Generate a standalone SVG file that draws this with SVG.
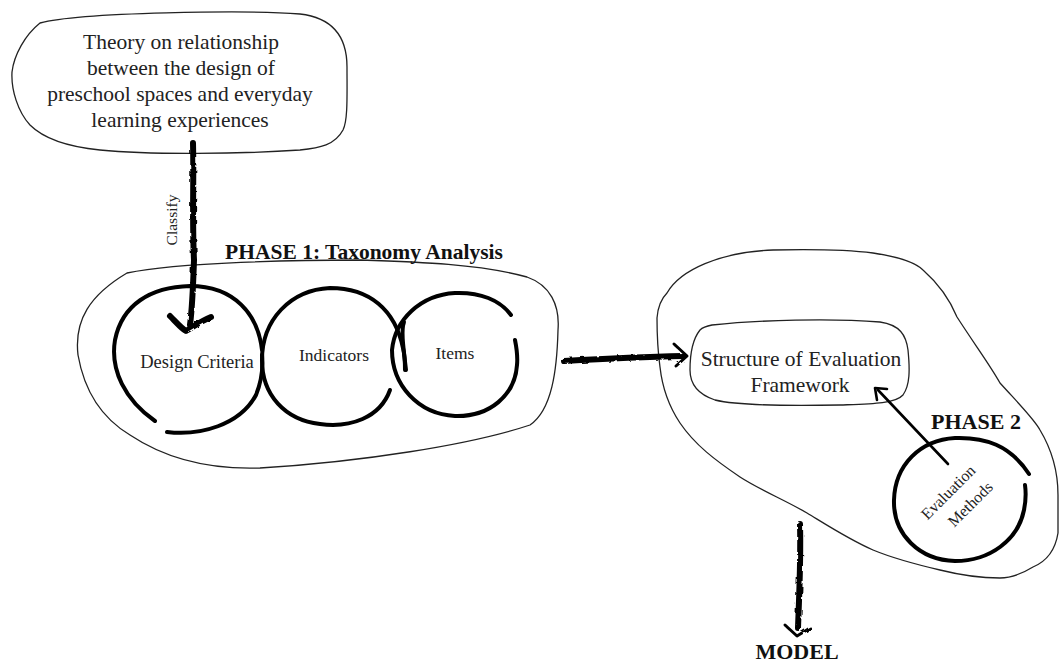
<svg xmlns="http://www.w3.org/2000/svg" width="1060" height="662" viewBox="0 0 1060 662">
<style>
.blob{fill:none;stroke:#222;stroke-width:1.3}
.ring{fill:none;stroke:#000;stroke-width:4;stroke-linecap:round}
.thick{fill:none;stroke:#000;stroke-width:6;stroke-linecap:round;stroke-linejoin:round}
.thin{fill:none;stroke:#000;stroke-width:3;stroke-linecap:round;stroke-linejoin:round}
.t{font-family:"Liberation Serif",serif;fill:#222;text-anchor:middle}
.b{font-family:"Liberation Serif",serif;font-weight:bold;fill:#111;text-anchor:middle}
</style>
<defs>
<filter id="rough" x="-10%" y="-10%" width="120%" height="120%">
<feTurbulence type="fractalNoise" baseFrequency="0.15" numOctaves="2" seed="3" result="n"/>
<feDisplacementMap in="SourceGraphic" in2="n" scale="3"/>
</filter>
</defs>
<rect width="1060" height="662" fill="#fff"/>

<g id="theory">
<path class="blob" d="M40,23 C80,12 250,10 300,14 C335,18 347,40 347,67 C347,95 348,120 343,130 C335,145 320,148 300,150 C240,154 150,155 100,150 C70,147 45,140 30,125 C18,112 11,90 12,72 C14,55 25,35 40,23 Z"/>
<text class="t" font-size="21.5" x="181" y="49">Theory on relationship</text>
<text class="t" font-size="21.5" x="181" y="75">between the design of</text>
<text class="t" font-size="21.5" x="180" y="101">preschool spaces and everyday</text>
<text class="t" font-size="21.5" x="180" y="127">learning  experiences</text>
</g>

<g id="phase1">
<path class="blob" d="M127,273 C180,262 300,260 360,260 C420,262 480,264 527,277 C550,285 560,305 558,330 C557,370 552,410 530,425 C470,445 360,462 260,468 C200,470 160,455 130,435 C105,420 85,395 78,355 C74,320 90,295 127,273 Z"/>
<text class="b" font-size="21.5" x="364" y="259">PHASE 1: Taxonomy Analysis</text>
</g>

<g id="design-criteria">
<path class="ring" d="M155,421 C125,400 110,370 115,340 C122,305 150,287 190,286 C235,286 258,315 262,350"/>
<path class="ring" d="M167,432 C200,436 240,425 256,395 C262,380 263,365 262,355"/>
<text class="t" font-size="18.5" x="197" y="368">Design  Criteria</text>
</g>

<g id="indicators">
<path class="ring" d="M390,390 C380,418 350,428 320,424 C285,420 262,395 262,360 C262,320 290,290 330,288 C370,288 395,310 403,348 C404,352 405,360 405,370"/>
<text class="t" font-size="17.5" x="334" y="361">Indicators</text>
</g>

<g id="items">
<path class="ring" d="M511,315 C500,300 480,292 455,293 C420,295 395,320 392,350 C392,385 418,414 455,416 C490,417 515,395 517,365 C518,355 516,345 515,340"/>
<path class="ring" d="M406,370 C403,345 401,330 404,322"/>
<text class="t" font-size="17.5" x="455" y="359">Items</text>
</g>

<g id="phase2">
<path class="blob" d="M667,293 C680,270 720,252 773,250 C820,249 850,250 873,253 C900,257 915,262 923,270 C940,285 950,300 957,317 C975,345 990,365 1000,383 C1020,405 1035,420 1040,430 C1052,450 1058,470 1058,495 C1058,515 1058,525 1058,533 C1055,552 1045,562 1033,567 C1020,575 1010,578 1000,578 C980,578 960,575 940,570 C910,563 890,557 873,550 C850,540 830,527 807,513 C785,500 760,490 740,477 C715,460 695,445 680,423 C668,405 662,385 660,367 C657,345 657,330 657,318 C658,305 662,298 667,293 Z"/>
<text class="b" font-size="22" x="976" y="429">PHASE 2</text>
</g>

<g id="structure">
<path class="blob" d="M712,325 C760,320 830,318 880,322 C900,325 906,335 908,350 C910,370 910,385 903,395 C895,404 870,404 840,405 C790,406 740,406 715,400 C700,395 690,385 690,370 C690,355 692,340 700,330 C703,327 707,326 712,325 Z"/>
<text class="t" font-size="21.5" x="801" y="366">Structure of Evaluation</text>
<text class="t" font-size="21.5" x="800" y="392">Framework</text>
</g>

<g id="evaluation-methods">
<path class="ring" d="M1029,474 C1010,445 985,437 955,438 C920,440 895,465 894,500 C893,535 920,560 955,561 C990,561 1018,540 1024,510 C1026,500 1026,492 1025,485"/>
<text class="t" font-size="16" transform="translate(952,496) rotate(-45)" x="0" y="0">Evaluation</text>
<text class="t" font-size="16" transform="translate(974,508) rotate(-45)" x="0" y="0">Methods</text>
</g>

<g id="connectors">
<g filter="url(#rough)">
<path class="thick" d="M193,143 C194,180 192,220 194,260 C193,290 192,310 190,325"/>
<path class="thick" d="M170,316 C176,322 181,328 186,331 C193,327 201,321 211,317"/>
<path class="thick" d="M564,361 C600,359 640,357 683,356"/>
<path class="thin" d="M674,344 L687,356 L676,366"/>
<path class="thick" d="M800,524 C801,560 799,600 798,628"/>
<path class="thin" d="M785,625 L797,636 L810,628"/>
</g>
<path class="thin" d="M948,464 L878,390" style="stroke-width:2.6"/>
<path class="thin" d="M877,400 L875,388 L887,389" style="stroke-width:2.6"/>
<text class="t" font-size="15.5" transform="translate(177,220) rotate(-90)" x="0" y="0">Classify</text>
<text class="b" font-size="22" x="797" y="659">MODEL</text>
</g>
</svg>
